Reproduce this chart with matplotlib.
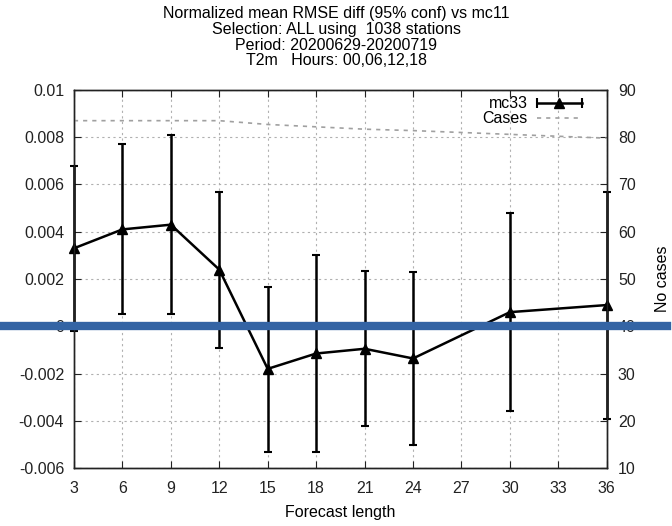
import matplotlib
matplotlib.use("Agg")
import matplotlib.pyplot as plt
import matplotlib.transforms as mtransforms
from matplotlib.lines import Line2D
from matplotlib.legend_handler import HandlerBase

plt.rcParams['font.family'] = ['Liberation Sans', 'DejaVu Sans']

# forecast lengths and scores
lead = [3, 6, 9, 12, 15, 18, 21, 24, 30, 36]
mc33 = [0.0033, 0.0041, 0.0043, 0.0024, -0.0018, -0.00115, -0.00095, -0.00136, 0.0006, 0.0009]
err_lo = [-0.0002, 0.0005, 0.0005, -0.0009, -0.0053, -0.0053, -0.0042, -0.0050, -0.0036, -0.0039]
err_hi = [0.0068, 0.0077, 0.0081, 0.0057, 0.00165, 0.0030, 0.00233, 0.0023, 0.0048, 0.0057]
cases = [83.5, 83.5, 83.5, 83.5, 82.7, 82.2, 81.7, 81.4, 80.6, 79.8]

xticks = [3, 6, 9, 12, 15, 18, 21, 24, 27, 30, 33, 36]
yticks = [-0.006, -0.004, -0.002, 0, 0.002, 0.004, 0.006, 0.008, 0.01]
ylabels = ["-0.006", "-0.004", "-0.002", "0", "0.002", "0.004", "0.006", "0.008", "0.01"]
y2ticks = [10, 20, 30, 40, 50, 60, 70, 80, 90]

title = ("Normalized mean RMSE diff (95% conf) vs mc11\n"
         "Selection: ALL using  1038 stations\n"
         "Period: 20200629-20200719\n"
         "T2m   Hours: 00,06,12,18")


class ErrKeyHandler(HandlerBase):
    # gnuplot style key sample: horizontal bar with end caps and a marker
    def create_artists(self, legend, orig_handle, xdescent, ydescent,
                       width, height, fontsize, trans):
        y = height / 2 - ydescent
        x0, x1 = -xdescent, -xdescent + width
        bar = Line2D([x0, x1], [y, y], color='black', lw=1.8)
        caps = Line2D([x0, x1], [y, y], ls='', marker='|', ms=7, mew=1.5, color='black')
        tri = Line2D([(x0 + x1) / 2], [y], ls='', marker='^', ms=7, color='black')
        for a in (bar, caps, tri):
            a.set_transform(trans)
        return [bar, caps, tri]


fig = plt.figure(figsize=(6.72, 5.26), dpi=100)
ax = fig.add_axes([0.110, 0.110, 0.793, 0.719])
ax2 = ax.twinx()

yerr = [[m - lo for m, lo in zip(mc33, err_lo)], [hi - m for m, hi in zip(mc33, err_hi)]]
eb = ax.errorbar(lead, mc33, yerr=yerr, color='black', lw=1.8, elinewidth=1.8,
                 capsize=3, capthick=1.5, marker='^', markersize=7, zorder=5)
for art in eb.lines[1] + eb.lines[2] + (eb.lines[0],):
    art.set_clip_on(False)
cases_line, = ax2.plot(lead, cases, color='#a0a0a0', lw=1.2, ls=(0, (2.5, 3)))

ax.set_xlim(3, 36)
ax.set_ylim(-0.006, 0.01)
ax2.set_ylim(10, 90)
ax.set_xticks(xticks)
ax.set_yticks(yticks)
ax.set_yticklabels(ylabels)
ax2.set_yticks(y2ticks)

ax.grid(True, color='#b0b0b0', ls=(0, (2, 3)), lw=0.8)
ax.tick_params(direction='in', top=True, length=5, labelsize=11.5, colors='#222222')
ax.tick_params(axis='x', pad=9)
ax.tick_params(axis='y', pad=7)
ax2.tick_params(direction='in', length=5, labelsize=11.5, pad=8, colors='#222222')
for a in (ax, ax2):
    for s in a.spines.values():
        s.set_linewidth(1.0)
        s.set_color('#222222')

ax.set_xlabel("Forecast length", fontsize=11.5, labelpad=7)
ax2.set_ylabel("No cases", fontsize=11.5, labelpad=14)
fig.text(0.5, 0.988, title, ha='center', va='top', fontsize=11.5, linespacing=1.05)

key_handle = Line2D([], [], color='black')
ax2.legend([key_handle, cases_line], ["mc33", "Cases"], loc='upper right',
           bbox_to_anchor=(0.965, 1.0), markerfirst=False, frameon=False,
           fontsize=11.5, handlelength=2.8, borderaxespad=0.1, labelspacing=0.0,
           handletextpad=0.6, handler_map={key_handle: ErrKeyHandler()}, borderpad=0.3)

# thick blue zero line across the whole figure
tr = mtransforms.blended_transform_factory(fig.transFigure, ax.transData)
fig.add_artist(Line2D([0.0, 0.993], [0, 0], transform=tr, color='#3464a4', lw=6, zorder=10))

fig.savefig("out.png", dpi=100)
